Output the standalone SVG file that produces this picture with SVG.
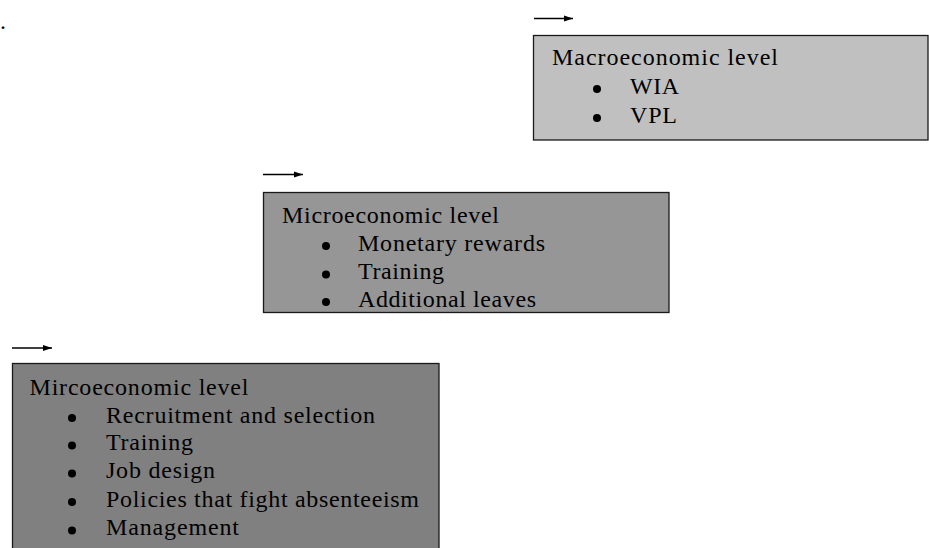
<svg xmlns="http://www.w3.org/2000/svg" width="929" height="548" viewBox="0 0 929 548">
  <defs>
    <style>
      .box { stroke: #1a1a1a; stroke-width: 1.3; }
      .lvl1 { fill: #c0c0c0; }
      .lvl2 { fill: #969696; }
      .lvl3 { fill: #808080; }
      text { font-family: "Liberation Serif", "Times New Roman", serif; font-size: 24px; fill: #000; }
      .dot { fill: #000; }
      .arrow { stroke: #000; stroke-width: 1.7; fill: none; }
    </style>
    <marker id="head" markerUnits="userSpaceOnUse" markerWidth="9" markerHeight="7" refX="9" refY="3.5" orient="auto">
      <path d="M0,0.5 L9,3.5 L0,6.5 Z" fill="#000"/>
    </marker>
  </defs>

  <rect width="929" height="548" fill="#fff"/>

  <!-- stray period in the top-left corner -->
  <text x="0" y="29">.</text>

  <g id="connectors">
    <line class="arrow" x1="534" y1="18.5" x2="573" y2="18.5" marker-end="url(#head)"/>
    <line class="arrow" x1="263" y1="174.5" x2="303" y2="174.5" marker-end="url(#head)"/>
    <line class="arrow" x1="12" y1="348" x2="52" y2="348" marker-end="url(#head)"/>
  </g>

  <g id="macroeconomic">
    <rect class="box lvl1" x="533.5" y="35.5" width="394.5" height="104.5"/>
    <text x="552" y="65" textLength="226" lengthAdjust="spacing">Macroeconomic level</text>
    <circle class="dot" cx="597" cy="89" r="4"/>
    <text x="630" y="94" textLength="49" lengthAdjust="spacing">WIA</text>
    <circle class="dot" cx="597" cy="118" r="4"/>
    <text x="630" y="122.5" textLength="47" lengthAdjust="spacing">VPL</text>
  </g>

  <g id="microeconomic">
    <rect class="box lvl2" x="263.5" y="192.5" width="405.5" height="120"/>
    <text x="282" y="222.5" textLength="217" lengthAdjust="spacing">Microeconomic level</text>
    <circle class="dot" cx="326" cy="246" r="4"/>
    <text x="358" y="250.5" textLength="187" lengthAdjust="spacing">Monetary rewards</text>
    <circle class="dot" cx="326" cy="274.5" r="4"/>
    <text x="358" y="279" textLength="86" lengthAdjust="spacing">Training</text>
    <circle class="dot" cx="326" cy="302" r="4"/>
    <text x="358" y="306.5" textLength="178" lengthAdjust="spacing">Additional leaves</text>
  </g>

  <g id="mircoeconomic">
    <rect class="box lvl3" x="12.5" y="363.5" width="426.5" height="190"/>
    <text x="29.5" y="395" textLength="219" lengthAdjust="spacing">Mircoeconomic level</text>
    <circle class="dot" cx="72" cy="418" r="4"/>
    <text x="106" y="422.5" textLength="269" lengthAdjust="spacing">Recruitment and selection</text>
    <circle class="dot" cx="72" cy="445.5" r="4"/>
    <text x="106" y="450" textLength="87" lengthAdjust="spacing">Training</text>
    <circle class="dot" cx="72" cy="473.5" r="4"/>
    <text x="106" y="478" textLength="109" lengthAdjust="spacing">Job design</text>
    <circle class="dot" cx="72" cy="502" r="4"/>
    <text x="106" y="506.5" textLength="313" lengthAdjust="spacing">Policies that fight absenteeism</text>
    <circle class="dot" cx="72" cy="530.5" r="4"/>
    <text x="106" y="535" textLength="133" lengthAdjust="spacing">Management</text>
  </g>
</svg>
